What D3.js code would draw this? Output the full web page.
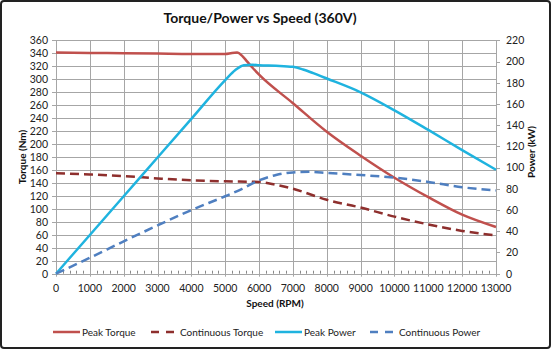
<!DOCTYPE html>
<html><head><meta charset="utf-8">
<script src="https://cdn.jsdelivr.net/npm/d3@7/dist/d3.min.js"></script>
<style>body{margin:0;background:#fff}svg{display:block}text{font-family:Lato,"Open Sans",sans-serif}</style>
</head><body><svg id="c" width="551" height="349"></svg>
<script>
const title = "Torque/Power vs Speed (360V)";
const xTicks = [0,1000,2000,3000,4000,5000,6000,7000,8000,9000,10000,11000,12000,13000];
const leftTicks = d3.range(0,361,20);
const rightTicks = d3.range(0,221,20);
const peakTorqueRpm = [0,1000,2000,3000,4000,5000,5200,5350,5500,5650,5800,6000,7000,8000,9000,10000,11000,12000,13000];
const peakTorque    = [341,340.5,340,339.5,339,339,340.5,341,336,327,318,307,263,219,182,148,118,91,72];
const contTorqueRpm = [0,1000,2000,3000,4000,5000,6000,6500,7000,8000,9000,10000,11000,12000,13000];
const contTorque    = [155,153,150.5,147,144,142.5,141.5,137,131,114,102,88,76,66,59];
const peakPowerRpm  = [0,1000,2000,3000,4000,5000,5300,5550,5800,6000,6500,7000,7300,7600,8000,9000,10000,11000,12000,13000];
const peakPower     = [0,36.5,73,109.5,146,182.5,192,196.5,197,196.5,196,195,192.5,189,184,171,154,135.5,116.5,98];
const contPowerRpm  = [0,1000,2000,3000,4000,5000,5500,6000,6500,7000,7500,8000,9000,10000,11000,12000,13000];
const contPower     = [0,15,30.5,45.5,60,73,80,88,93,95.5,96,95,93,90.5,86.5,81.5,78.5];

const svg = d3.select("#c");
svg.append("rect").attr("x",1).attr("y",1).attr("width",549).attr("height",347).attr("rx",3)
  .attr("fill","#fff").attr("stroke","#222").attr("stroke-width",2);

const L=56, R=496, T=40.3, B=273.7;
const x = d3.scaleLinear().domain([0,13000]).range([L,R]);
const yL = d3.scaleLinear().domain([0,360]).range([B,T]);
const yR = d3.scaleLinear().domain([0,220]).range([B,T]);
const grid="#a6a6a6";

const g = svg.append("g");
g.selectAll(".h").data(leftTicks).join("line")
  .attr("x1",L-4).attr("x2",R).attr("y1",d=>Math.round(yL(d))+0.5).attr("y2",d=>Math.round(yL(d))+0.5)
  .attr("stroke",grid).attr("stroke-width",1);
g.selectAll(".v").data(xTicks).join("line")
  .attr("y1",T).attr("y2",B+3).attr("x1",d=>Math.round(x(d))+0.5).attr("x2",d=>Math.round(x(d))+0.5)
  .attr("stroke",grid).attr("stroke-width",1);
const minor = d3.range(0,13001,200).filter(d=>d%1000!==0);
g.selectAll(".m").data(minor).join("line")
  .attr("y1",B-3).attr("y2",B).attr("x1",d=>Math.round(x(d))+0.5).attr("x2",d=>Math.round(x(d))+0.5)
  .attr("stroke","#888").attr("stroke-width",1);
g.selectAll(".r").data(rightTicks).join("line")
  .attr("x1",R).attr("x2",R+4).attr("y1",d=>Math.round(yR(d))+0.5).attr("y2",d=>Math.round(yR(d))+0.5)
  .attr("stroke",grid);

const fs=10.5, tc="#222";
svg.append("g").selectAll("text").data(leftTicks).join("text")
  .attr("x",48).attr("y",d=>yL(d)+3.8).attr("text-anchor","end").attr("font-size",fs).attr("fill",tc).text(d=>d);
svg.append("g").selectAll("text").data(rightTicks).join("text")
  .attr("x",506).attr("y",d=>yR(d)+3.8).attr("text-anchor","start").attr("font-size",fs).attr("fill",tc).text(d=>d);
svg.append("g").selectAll("text").data(xTicks).join("text")
  .attr("x",d=>x(d)).attr("y",291.5).attr("text-anchor","middle").attr("font-size",fs).attr("fill",tc).text(d=>d);

svg.append("text").attr("x",260).attr("y",22.5).attr("text-anchor","middle").attr("font-size",14).attr("font-weight","bold").attr("fill","#111").text(title);
svg.append("text").attr("x",275).attr("y",307).attr("text-anchor","middle").attr("font-size",10).attr("font-weight","bold").attr("fill","#111").text("Speed (RPM)");
svg.append("text").attr("transform","translate(26,157) rotate(-90)").attr("text-anchor","middle").attr("font-size",10).attr("font-weight","bold").attr("fill","#111").text("Torque (Nm)");
svg.append("text").attr("transform","translate(535,152) rotate(-90)").attr("text-anchor","middle").attr("font-size",10).attr("font-weight","bold").attr("fill","#111").text("Power (kW)");

const series = [
  {name:"Peak Torque", xs:peakTorqueRpm, ys:peakTorque, y:yL, color:"#c0504d", dash:null},
  {name:"Continuous Torque", xs:contTorqueRpm, ys:contTorque, y:yL, color:"#8e2f2d", dash:"9,5"},
  {name:"Peak Power", xs:peakPowerRpm, ys:peakPower, y:yR, color:"#1fb3df", dash:null},
  {name:"Continuous Power", xs:contPowerRpm, ys:contPower, y:yR, color:"#4f7fc0", dash:"9,5"}
];
const plot = svg.append("g");
series.forEach(s=>{
  const pts = s.xs.map((v,i)=>[v,s.ys[i]]);
  const line = d3.line().x(d=>x(d[0])).y(d=>s.y(d[1])).curve(d3.curveMonotoneX);
  plot.append("path").attr("d",line(pts)).attr("fill","none").attr("stroke",s.color)
    .attr("stroke-width",2.5).attr("stroke-dasharray",s.dash);
});

const legX = [53,151,275,370];
const lg = svg.append("g");
series.forEach((s,i)=>{
  lg.append("line").attr("x1",legX[i]).attr("x2",legX[i]+27).attr("y1",332).attr("y2",332)
    .attr("stroke",s.color).attr("stroke-width",2.5).attr("stroke-dasharray",s.dash?"8,7":null);
  lg.append("text").attr("x",legX[i]+29).attr("y",335.5).attr("font-size",10).attr("fill","#222").text(s.name);
});
</script></body></html>
